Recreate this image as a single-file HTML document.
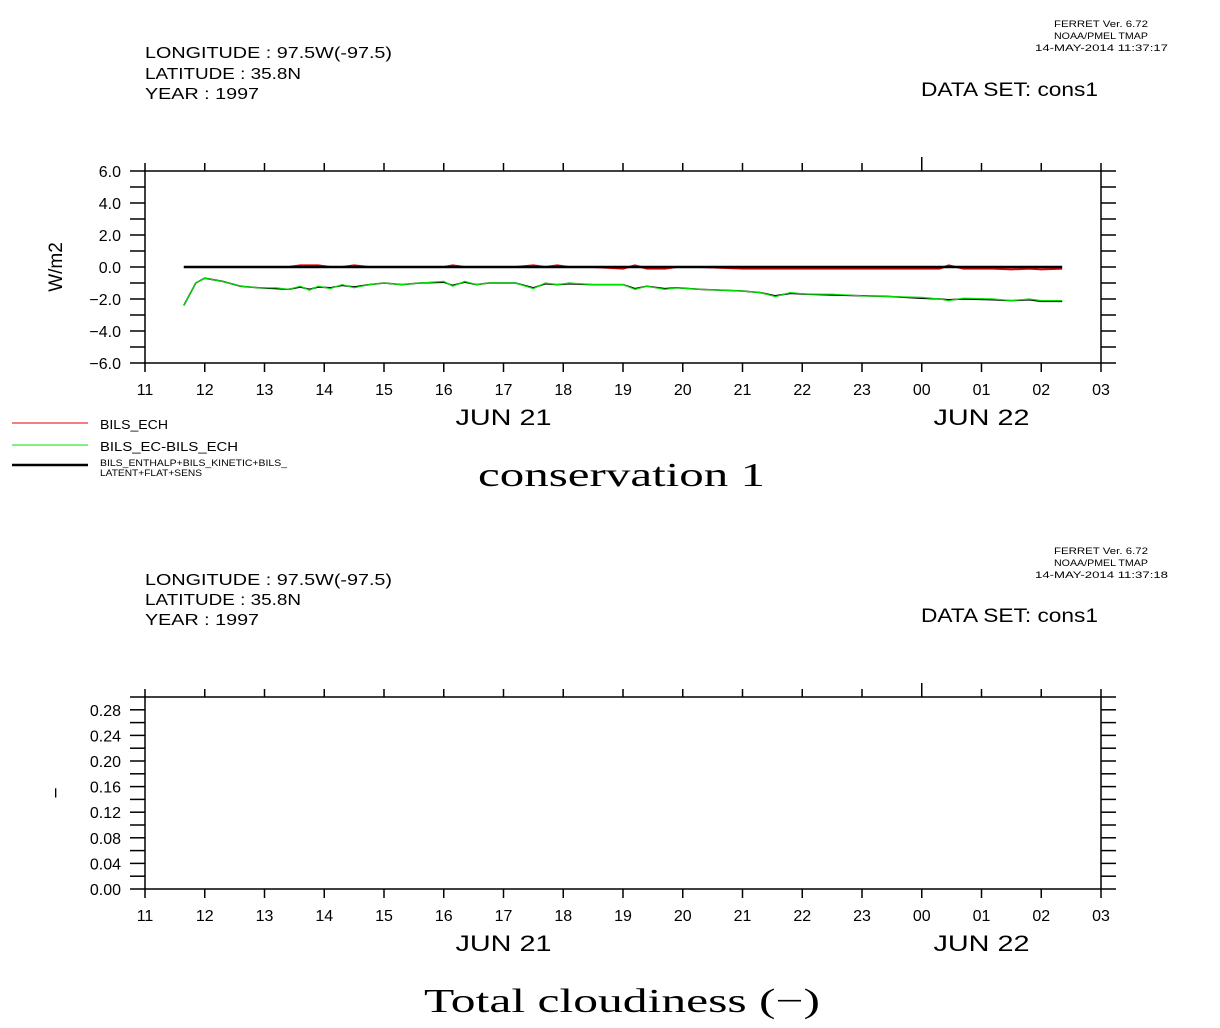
<!DOCTYPE html>
<html><head><meta charset="utf-8"><style>
html,body{margin:0;padding:0;background:#fff;}
svg{display:block;font-family:"Liberation Sans",sans-serif;}
</style></head><body>
<svg id="s" width="1220" height="1028" viewBox="0 0 1220 1028">
<g font-size="16" fill="#000">
<text x="145" y="58" textLength="247" lengthAdjust="spacingAndGlyphs">LONGITUDE : 97.5W(-97.5)</text>
<text x="145" y="79" textLength="156" lengthAdjust="spacingAndGlyphs">LATITUDE : 35.8N</text>
<text x="145" y="99" textLength="114" lengthAdjust="spacingAndGlyphs">YEAR : 1997</text>
<text x="921" y="96" font-size="19" textLength="177" lengthAdjust="spacingAndGlyphs">DATA SET: cons1</text>
<text x="1054" y="27" font-size="9" textLength="94" lengthAdjust="spacingAndGlyphs">FERRET Ver. 6.72</text>
<text x="1054" y="39" font-size="9" textLength="94" lengthAdjust="spacingAndGlyphs">NOAA/PMEL TMAP</text>
<text x="1035" y="51" font-size="9" textLength="133" lengthAdjust="spacingAndGlyphs">14-MAY-2014 11:37:17</text>
</g>
<g font-size="16" fill="#000">
<text x="145" y="585" textLength="247" lengthAdjust="spacingAndGlyphs">LONGITUDE : 97.5W(-97.5)</text>
<text x="145" y="605" textLength="156" lengthAdjust="spacingAndGlyphs">LATITUDE : 35.8N</text>
<text x="145" y="625" textLength="114" lengthAdjust="spacingAndGlyphs">YEAR : 1997</text>
<text x="921" y="622" font-size="19" textLength="177" lengthAdjust="spacingAndGlyphs">DATA SET: cons1</text>
<text x="1054" y="554" font-size="9" textLength="94" lengthAdjust="spacingAndGlyphs">FERRET Ver. 6.72</text>
<text x="1054" y="566" font-size="9" textLength="94" lengthAdjust="spacingAndGlyphs">NOAA/PMEL TMAP</text>
<text x="1035" y="578" font-size="9" textLength="133" lengthAdjust="spacingAndGlyphs">14-MAY-2014 11:37:18</text>
</g>
<g>
<line x1="12" y1="423" x2="88" y2="423" stroke="#e00000" stroke-width="1"/>
<text x="100" y="429" font-size="13" textLength="68" lengthAdjust="spacingAndGlyphs">BILS_ECH</text>
<line x1="12" y1="445" x2="88" y2="445" stroke="#00e000" stroke-width="1"/>
<text x="100" y="451" font-size="13" textLength="138" lengthAdjust="spacingAndGlyphs">BILS_EC-BILS_ECH</text>
<line x1="12" y1="465" x2="88" y2="465" stroke="#000" stroke-width="2.5"/>
<text x="100" y="466" font-size="9" textLength="187" lengthAdjust="spacingAndGlyphs">BILS_ENTHALP+BILS_KINETIC+BILS_</text>
<text x="100" y="476" font-size="9" textLength="102" lengthAdjust="spacingAndGlyphs">LATENT+FLAT+SENS</text>
</g>
<text x="478" y="486" font-size="34" textLength="287" lengthAdjust="spacingAndGlyphs" font-family="Liberation Serif,serif">conservation 1</text>
<text x="424" y="1012" font-size="34" textLength="396" lengthAdjust="spacingAndGlyphs" font-family="Liberation Serif,serif">Total cloudiness (−)</text>
<g id="p1"></g>
<g id="p2"></g>
</svg>
<script>
const hourLabels=["11","12","13","14","15","16","17","18","19","20","21","22","23","00","01","02","03"];
const yTicks1=["6.0","4.0","2.0","0.0","-2.0","-4.0","-6.0"];
const yTicks2=["0.00","0.04","0.08","0.12","0.16","0.20","0.24","0.28"];
const times=[11.65,11.85,12.0,12.3,12.6,12.9,13.2,13.4,13.6,13.75,13.9,14.1,14.3,14.5,14.75,15.0,15.3,15.6,16.0,16.15,16.35,16.55,16.75,17.2,17.5,17.7,17.9,18.1,18.5,19.0,19.2,19.4,19.7,19.9,20.3,21.0,21.3,21.55,21.8,22.1,22.5,23.0,23.5,24.0,24.3,24.45,24.7,25.2,25.5,25.8,26.0,26.35];
const diffVals=[-2.4,-1.0,-0.7,-0.9,-1.2,-1.3,-1.3,-1.4,-1.2,-1.45,-1.2,-1.35,-1.1,-1.3,-1.1,-1.0,-1.1,-1.0,-0.9,-1.2,-0.9,-1.1,-1.0,-1.0,-1.35,-1.0,-1.1,-1.0,-1.1,-1.1,-1.4,-1.2,-1.4,-1.3,-1.4,-1.5,-1.6,-1.85,-1.6,-1.7,-1.7,-1.8,-1.85,-1.9,-2.0,-2.1,-1.95,-2.0,-2.1,-2.0,-2.1,-2.1];
const echVals=[-2.4,-1.0,-0.7,-0.9,-1.2,-1.3,-1.35,-1.4,-1.25,-1.4,-1.25,-1.3,-1.15,-1.25,-1.1,-1.0,-1.1,-1.0,-0.95,-1.15,-0.95,-1.1,-1.0,-1.0,-1.3,-1.05,-1.1,-1.05,-1.1,-1.1,-1.35,-1.2,-1.35,-1.3,-1.4,-1.5,-1.6,-1.8,-1.65,-1.7,-1.75,-1.8,-1.85,-1.95,-2.0,-2.05,-2.0,-2.05,-2.1,-2.05,-2.15,-2.15];
const redVals=[0,0,0,0,0,0,0,0,0.1,0.1,0.1,0,0,0.1,0,0,0,0,0,0.1,0,0,0,0,0.1,0,0.1,0,0,-0.1,0.1,-0.1,-0.1,0,0,-0.1,-0.1,-0.1,-0.1,-0.1,-0.1,-0.1,-0.1,-0.1,-0.1,0.1,-0.1,-0.1,-0.15,-0.1,-0.15,-0.1];
const sumVals=times.map(()=>0);
const NS="http://www.w3.org/2000/svg";
function mk(par,tag,attrs){const e=document.createElementNS(NS,tag);for(const k in attrs)e.setAttribute(k,attrs[k]);par.appendChild(e);return e;}
const X0=145,X1=1101;
const xs=h=>X0+(h-11)*(X1-X0)/16;
function axes(g,top,bot,ymin,ymax,labels,minorStep,unitLabel){
  const ys=v=>bot-(v-ymin)*(bot-top)/(ymax-ymin);
  const r=mk(g,'rect',{x:X0,y:top,width:X1-X0,height:bot-top,fill:'none',stroke:'#000','stroke-width':1.5});
  
  
  for(let i=0;i<hourLabels.length;i++){
    const x=xs(11+i);
    const t=mk(g,'line',{x1:x,y1:bot,x2:x,y2:bot+9,stroke:'#000','stroke-width':1.5});
    
    
    const u=mk(g,'line',{x1:x,y1:top,x2:x,y2:top-(i==13?14:8),stroke:'#000','stroke-width':1.5});
    
    
    const tx=mk(g,'text',{x:x,y:bot+32,'font-size':16,'text-anchor':'middle'});
    tx.textContent=hourLabels[i];
    
    
  }
  const d1=mk(g,'text',{x:xs(17)-48,y:bot+62,'font-size':22,textLength:96,lengthAdjust:'spacingAndGlyphs'});d1.textContent='JUN 21';
  
  
  const d2=mk(g,'text',{x:xs(25)-48,y:bot+62,'font-size':22,textLength:96,lengthAdjust:'spacingAndGlyphs'});d2.textContent='JUN 22';
  
  
  for(let v=ymin;v<=ymax+1e-9;v+=minorStep){
    const y=ys(v);
    const a=mk(g,'line',{x1:X0-15,y1:y,x2:X0,y2:y,stroke:'#000','stroke-width':1.5});
    
    
    const b=mk(g,'line',{x1:X1,y1:y,x2:X1+15,y2:y,stroke:'#000','stroke-width':1.5});
    
    
  }
  labels.forEach(l=>{
    const v=parseFloat(l);
    const t=mk(g,'text',{x:X0-24,y:ys(v)+6,'font-size':16,'text-anchor':'end'});
    t.textContent=l.replace('-','−');
    
    
  });
  const yl=mk(g,'text',{x:0,y:0,'font-size':19,'text-anchor':'middle',transform:`translate(62,${(top+bot)/2}) rotate(-90)`});
  yl.textContent=unitLabel;
  
  
  return ys;
}
const g1=document.getElementById('p1');
const ys1=axes(g1,171,363,-6,6,yTicks1,1,'W/m2');
function series(vals,color,w,name){
  const p=mk(g1,'polyline',{points:times.map((t,i)=>xs(t)+','+ys1(vals[i])).join(' '),fill:'none',stroke:color,'stroke-width':w});
  
  
}
series(redVals,'#e00000',2,'series-bils-ech');
series(echVals,'#000','1.5','series-diff-shadow');
series(diffVals,'#00e000',1.2,'series-bils-ec-minus-ech');
series(sumVals,'#000',2.5,'series-enthalpy-sum');
const g2=document.getElementById('p2');
axes(g2,697,889,0,0.3,yTicks2,0.02,'−');
</script>
</body></html>
